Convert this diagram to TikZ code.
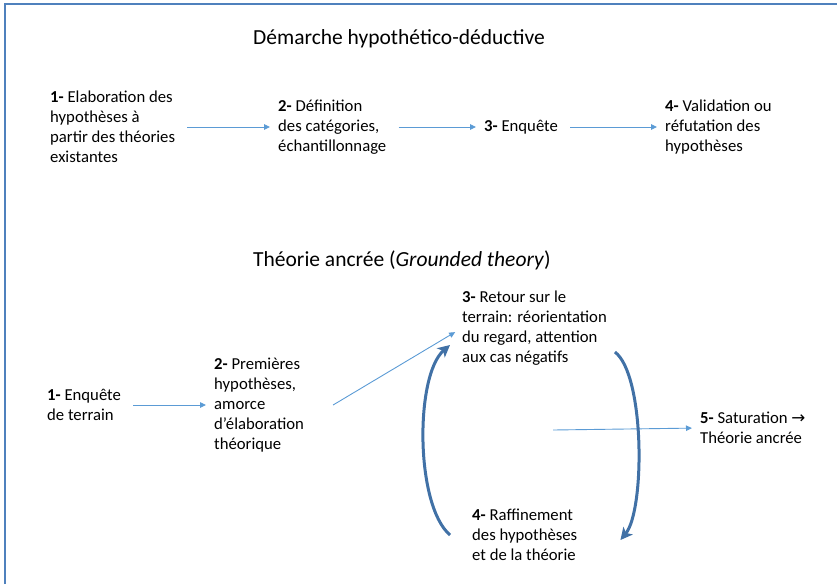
\documentclass[tikz,border=0pt]{standalone}
\usepackage{fontspec}
\setmainfont{Carlito}
\newfontfamily\arrowfont{DejaVu Sans}
\usetikzlibrary{arrows.meta}
\definecolor{framecol}{RGB}{79,129,189}
\definecolor{flowcol}{RGB}{91,155,213}
\definecolor{cyclecol}{RGB}{65,113,166}
\tikzset{
  txt/.style={anchor=west, align=left, inner sep=0pt, font=\fontsize{16.7}{20}\selectfont},
  heading/.style={anchor=west, inner sep=0pt, font=\fontsize{21.5}{26}\selectfont},
  flow/.style={draw=flowcol, line width=0.9pt, -{Triangle[length=6pt,width=5.5pt]}, shorten >=8pt},
  gap/.style={shorten <=12pt},
  cyclearrow/.style={draw=cyclecol, line width=3pt, -{Stealth[length=12pt,width=12pt,inset=3pt]}}
}
\begin{document}
\begin{tikzpicture}[x=1pt,y=-1pt]
  \useasboundingbox (0,0) rectangle (837,584);
  \draw[framecol, line width=2pt] (5,584) -- (5,4) -- (837,4);

  % demarche hypothetico-deductive
  \node[heading] (t1) at (253,39) {Démarche hypothético-déductive};
  \node[txt] (a1) at (50,127) {\textbf{1-} Elaboration des\\hypothèses à\\partir des théories\\existantes};
  \node[txt] (a2) at (278,127) {\textbf{2-} Définition\\des catégories,\\échantillonnage};
  \node[txt] (a3) at (484,127) {\textbf{3-} Enquête};
  \node[txt] (a4) at (665,127) {\textbf{4-} Validation ou\\réfutation des\\hypothèses};
  \foreach \u/\v in {a1/a2, a2/a3, a3/a4} {
    \draw[flow, gap] (\u) -- (\v);
  }

  % theorie ancree
  \node[heading] (t2) at (253,260) {Théorie ancrée (\textit{Grounded theory})};
  \node[txt] (b1) at (47,405) {\textbf{1-} Enquête\\de terrain};
  \node[txt] (b2) at (214,405) {\textbf{2-} Premières\\hypothèses,\\amorce\\d’élaboration\\théorique};
  \node[txt] (b3) at (462,328) {\textbf{3-} Retour sur le\\terrain: réorientation\\du regard, attention\\aux cas négatifs};
  \node[txt] (b4) at (472,535) {\textbf{4-} Raffinement\\des hypothèses\\et de la théorie};
  \node[txt] (b5) at (700,428) {\textbf{5-} Saturation {\arrowfont →}\\Théorie ancrée};
  \coordinate (mid) at (553,430);

  \draw[flow, gap] (b1) -- (b2);
  \draw[flow] ([xshift=29pt]b2.east) -- (b3.west);
  \draw[flow] (mid) -- (b5.west);

  \draw[cyclearrow] ([xshift=-22pt]b4.west) .. controls (415,505) and (415,375) .. ([shift={(-12pt,-17pt)}]b3.west);
  \draw[cyclearrow] ([shift={(8pt,-24pt)}]b3.east) .. controls (645,375) and (645,510) .. ([shift={(43pt,-5pt)}]b4.east);
\end{tikzpicture}
\end{document}
